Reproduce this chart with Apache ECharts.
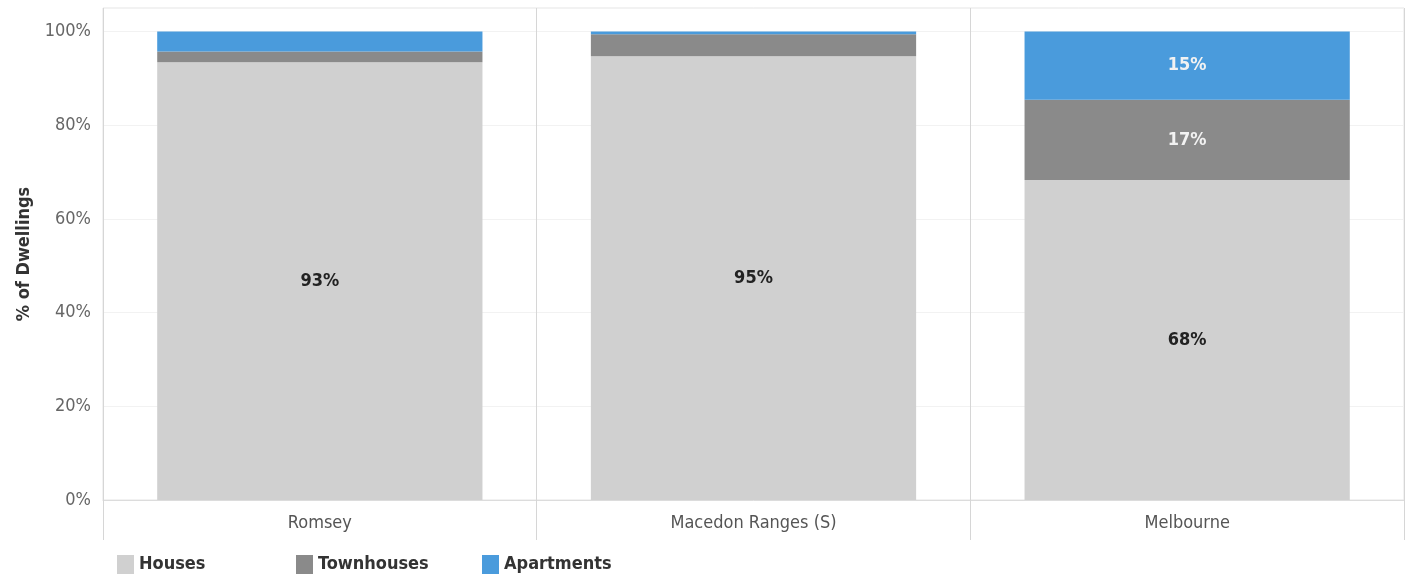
<!DOCTYPE html>
<html>
<head>
<meta charset="utf-8">
<script src="https://cdn.jsdelivr.net/npm/echarts@6/dist/echarts.min.js"></script>
<style>
  html, body { margin: 0; padding: 0; background: #fff; }
  #chart { width: 1411px; height: 581px; }
</style>
</head>
<body>
<div id="chart"></div>
<script>
var categories = ['Romsey', 'Macedon Ranges (S)', 'Melbourne']
var houses = [93.4, 94.7, 68.3]
var townhouses = [2.3, 4.7, 17.1]
var apartments = [4.3, 0.6, 14.6]
var yTicks = [0, 20, 40, 60, 80, 100]
var seriesNames = ['Houses', 'Townhouses', 'Apartments']

var font = "'DejaVu Sans Condensed', 'Liberation Sans Narrow', sans-serif"

function pctLabel(color) {
  return {
    show: true,
    position: 'inside',
    color: color,
    fontFamily: font,
    fontSize: 18,
    fontWeight: 'bold',
    formatter: function (p) {
      return p.value >= 10 ? Math.round(p.value) + '%' : ''
    }
  }
}

// one legend per item so the items sit at fixed spacing like the original
var legendLeft = [112, 291, 477]
var legends = seriesNames.map(function (name, i) {
  return {
    left: legendLeft[i], bottom: 2,
    itemWidth: 17, itemHeight: 19,
    icon: 'rect',
    textStyle: { color: '#333', fontSize: 18, fontFamily: font, fontWeight: 'bold' },
    data: [name]
  }
})

var chart = echarts.init(document.getElementById('chart'))
var option = {
  animation: false,
  textStyle: { fontFamily: font },
  grid: {
    left: 103, right: 7, top: 8, bottom: 81,
    show: true, borderColor: '#e4e4e4', borderWidth: 1
  },
  legend: legends,
  xAxis: {
    type: 'category',
    data: categories,
    axisLine: { lineStyle: { color: '#dcdcdc' } },
    axisTick: { show: true, interval: 0, length: 40, lineStyle: { color: '#d6d6d6' } },
    splitLine: { show: true, interval: 0, lineStyle: { color: '#d6d6d6' } },
    axisLabel: { color: '#555', fontSize: 18, margin: 14, fontFamily: font }
  },
  yAxis: {
    type: 'value',
    min: 0, max: 105, interval: 20,
    name: '% of Dwellings',
    nameLocation: 'middle',
    nameGap: 70,
    nameRotate: 90,
    nameTextStyle: { color: '#333', fontSize: 18, fontWeight: 'bold', fontFamily: font },
    axisLabel: {
      color: '#666', fontSize: 18, margin: 12, fontFamily: font,
      formatter: function (v) { return yTicks.indexOf(v) >= 0 ? v + '%' : '' }
    },
    splitLine: { lineStyle: { color: '#f2f2f2' } },
    axisLine: { show: false },
    axisTick: { show: false }
  },
  series: [
    {
      name: 'Houses', type: 'bar', stack: 'total', barWidth: '75%',
      data: houses, itemStyle: { color: '#d0d0d0' }, label: pctLabel('#222')
    },
    {
      name: 'Townhouses', type: 'bar', stack: 'total',
      data: townhouses, itemStyle: { color: '#8a8a8a' }, label: pctLabel('#f2f2f2')
    },
    {
      name: 'Apartments', type: 'bar', stack: 'total',
      data: apartments, itemStyle: { color: '#4a9bdc' }, label: pctLabel('#f2f2f2')
    }
  ]
}
chart.setOption(option)
</script>
</body>
</html>
